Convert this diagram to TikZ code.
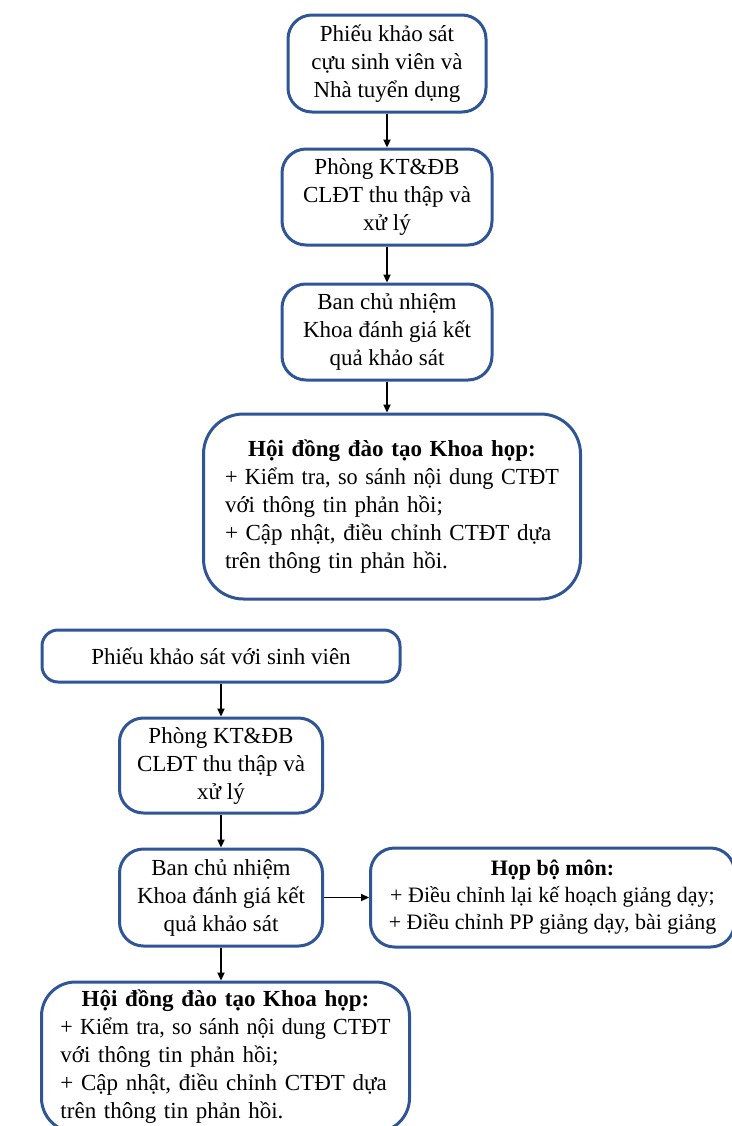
\documentclass[tikz,border=0pt]{standalone}
\usepackage{fontspec}
\setmainfont{Liberation Serif}
\usetikzlibrary{arrows.meta,positioning}
\definecolor{Frame}{HTML}{2F5597}
\tikzset{
  stepbox/.style={
    rounded corners=12pt, draw=Frame, line width=1.5pt, fill=white,
    align=center, inner sep=3pt, font=\fontsize{11.5}{14}\selectfont
  },
  notebox/.style={
    stepbox, rounded corners=20pt, align=left, inner ysep=3pt
  },
  link/.style={-{Triangle[length=4pt,width=3.6pt]}, line width=0.75pt, draw=black}
}
\newcommand{\spreadline}[2]{\makebox[#1][s]{#2}}
\newcommand{\fitline}[2]{\resizebox{#1}{\height}{#2}}
\newcommand{\headline}[2]{\makebox[#1][c]{\textbf{#2}}}

\begin{document}
\begin{tikzpicture}
        \useasboundingbox (0,0) rectangle (366pt,-563pt);
        % first chart
        \node[stepbox,minimum width=99pt,minimum height=48.5pt] (survey) at (193.5pt,-31.75pt)
          {Phiếu khảo sát\\cựu sinh viên và\\Nhà tuyển dụng};
        \node[stepbox,minimum width=105pt,minimum height=48pt,below=17pt of survey] (office)
          {Phòng KT\&ĐB\\CLĐT thu thập và\\xử lý};
        \node[stepbox,minimum width=105pt,minimum height=48pt,below=18pt of office] (board)
          {Ban chủ nhiệm\\Khoa đánh giá kết\\quả khảo sát};
        \node[notebox,text width=167pt,inner xsep=10.75pt,minimum height=92.5pt,below=15.5pt of board,xshift=2.5pt] (council)
          {\headline{167pt}{Hội đồng đào tạo Khoa họp:}\\
           \fitline{167pt}{+ Kiểm tra, so sánh nội dung CTĐT}\\
           với thông tin phản hồi;\\
           \spreadline{167pt}{+ Cập nhật, điều chỉnh CTĐT dựa}\\
           trên thông tin phản hồi.};
        \draw[link] (survey)--(office);
        \draw[link] (office)--(board);
        \draw[link] (board.south)--(board.south|-council.north);
        % second chart
        \node[stepbox,rounded corners=8pt,minimum width=179pt,minimum height=26pt] (studsurvey) at (110.5pt,-328pt)
          {Phiếu khảo sát với sinh viên};
        \node[stepbox,minimum width=101.5pt,minimum height=47.5pt,below=16.5pt of studsurvey] (office2)
          {Phòng KT\&ĐB\\CLĐT thu thập và\\xử lý};
        \node[stepbox,minimum width=101.5pt,minimum height=48.5pt,below=16.5pt of office2] (board2)
          {Ban chủ nhiệm\\Khoa đánh giá kết\\quả khảo sát};
        \node[stepbox,font=\fontsize{11}{13.5}\selectfont,minimum width=182pt,minimum height=49.5pt,right=22.5pt of board2] (dept)
          {\textbf{Họp bộ môn:}\\+ Điều chỉnh lại kế hoạch giảng dạy;\\+ Điều chỉnh PP giảng dạy, bài giảng};
        \node[notebox,rounded corners=17pt,text width=165pt,inner xsep=9.5pt,minimum height=75pt,below=16.5pt of board2,xshift=2.25pt] (council2)
          {\headline{165pt}{Hội đồng đào tạo Khoa họp:}\\
           \fitline{165pt}{+ Kiểm tra, so sánh nội dung CTĐT}\\
           với thông tin phản hồi;\\
           \spreadline{165pt}{+ Cập nhật, điều chỉnh CTĐT dựa}\\
           trên thông tin phản hồi.};
        \draw[link] (studsurvey)--(office2);
        \draw[link] (office2)--(board2);
        \draw[link] (board2)--(dept);
        \draw[link] (board2.south)--(board2.south|-council2.north);
      \end{tikzpicture}
\end{document}
